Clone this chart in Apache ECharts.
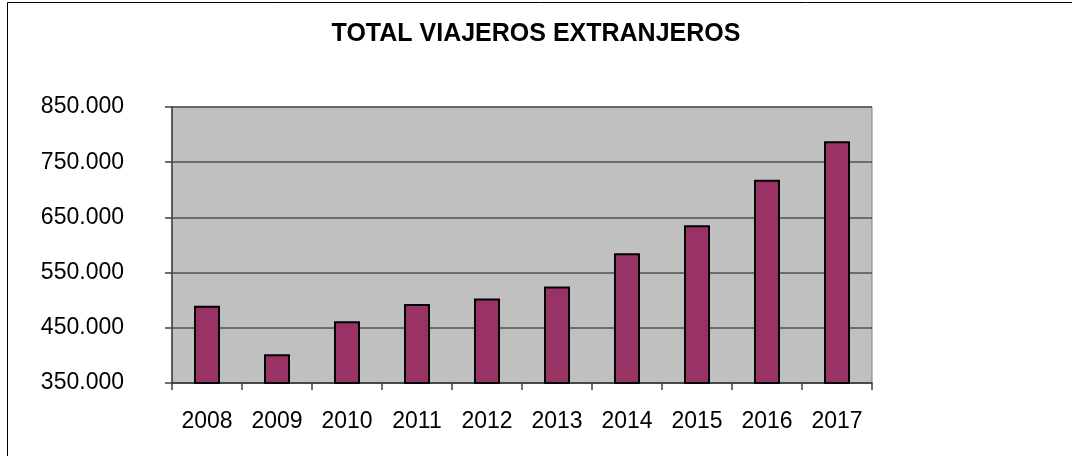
<!DOCTYPE html>
<html>
<head>
<meta charset="utf-8">
<script src="https://cdn.jsdelivr.net/npm/echarts@6/dist/echarts.min.js"></script>
<style>
  html, body { margin: 0; padding: 0; background: #fff; }
  #chart { width: 1072px; height: 456px; }
</style>
</head>
<body>
<div id="chart"></div>
<script>
// Data
const years = ['2008', '2009', '2010', '2011', '2012', '2013', '2014', '2015', '2016', '2017']
const viajeros = [490000, 402000, 462000, 493000, 503000, 525000, 585000, 636000, 718000, 788000]
const yMin = 350000
const yMax = 850000
const yStep = 100000

function formatThousands(v) {
  return String(v).replace(/\B(?=(\d{3})+(?!\d))/g, '.')
}

const chart = echarts.init(document.getElementById('chart'))

const option = {
  backgroundColor: '#ffffff',
  animation: false,
  title: {
    text: 'TOTAL VIAJEROS EXTRANJEROS',
    left: 'center',
    top: 17,
    textStyle: {
      fontFamily: 'Liberation Sans, Arial, sans-serif',
      fontSize: 25,
      fontWeight: 'bold',
      color: '#000'
    }
  },
  graphic: [{
    type: 'rect',
    shape: { x: 7.5, y: 2.5, width: 1200, height: 600 },
    style: { fill: 'none', stroke: '#000', lineWidth: 1 },
    silent: true,
    z: 100
  }],
  grid: {
    left: 172,
    right: 200,
    top: 107,
    bottom: 73,
    show: true,
    backgroundColor: '#c0c0c0',
    borderColor: '#808080',
    borderWidth: 1
  },
  xAxis: {
    type: 'category',
    data: years,
    boundaryGap: true,
    axisLine: { show: true, lineStyle: { color: '#404040', width: 1.5 } },
    axisTick: { show: true, length: 7, inside: false, alignWithLabel: false, lineStyle: { color: '#404040', width: 1.5 } },
    axisLabel: {
      margin: 27,
      color: '#000',
      fontFamily: 'Liberation Sans, Arial, sans-serif',
      fontSize: 23
    },
    splitLine: { show: false }
  },
  yAxis: {
    type: 'value',
    min: yMin,
    max: yMax,
    interval: yStep,
    axisLine: { show: true, lineStyle: { color: '#404040', width: 1.5 } },
    axisTick: { show: true, length: 7, inside: false, lineStyle: { color: '#404040', width: 1.5 } },
    axisLabel: {
      margin: 48,
      color: '#000',
      fontFamily: 'Liberation Sans, Arial, sans-serif',
      fontSize: 23,
      formatter: v => formatThousands(v)
    },
    splitLine: { show: true, lineStyle: { color: '#505050', width: 1.5 } }
  },
  series: [{
    name: 'Total viajeros extranjeros',
    type: 'bar',
    data: viajeros,
    barWidth: 26,
    itemStyle: {
      color: '#993366',
      borderColor: '#000',
      borderWidth: 2
    }
  }]
}

chart.setOption(option)
</script>
</body>
</html>
